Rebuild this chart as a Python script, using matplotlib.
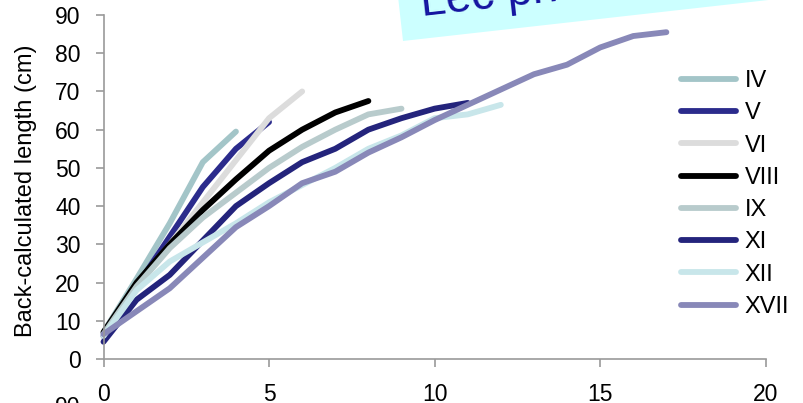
import numpy as np
import matplotlib
matplotlib.use("Agg")
import matplotlib.pyplot as plt
from matplotlib.patches import Polygon

plt.rcParams['font.family'] = ['Liberation Sans', 'DejaVu Sans']

# ---- data ----
labels = ["IV", "V", "VI", "VIII", "IX", "XI", "XII", "XVII"]
iv   = [7, 21, 35.5, 51.5, 59.5]
v    = [6, 19, 32, 45, 55, 62]
vi   = [7, 19, 30, 41, 52, 63, 70]
viii = [7, 20, 30, 39, 47, 54.5, 60, 64.5, 67.5]
ix   = [6.5, 19, 29, 37, 43.5, 50, 55.5, 60, 64, 65.5]
xi   = [4.5, 15.5, 22, 31, 40, 46, 51.5, 55, 60, 63, 65.5, 67]
xii  = [6, 18, 25.5, 30.5, 35.5, 41, 45.5, 50, 55, 58.5, 63, 64, 66.5]
xvii = [6.5, 12.5, 18.5, 26.5, 34.5, 40, 46, 49, 54, 58, 62.5, 66.5, 70.5,
        74.5, 77, 81.5, 84.5, 85.5]
series = [iv, v, vi, viii, ix, xi, xii, xvii]
colors = ["#a3c5c8", "#2b2b8c", "#dcdcdc", "#000000", "#b8cbcc", "#24247c",
          "#c8e6ea", "#8888b8"]
xticks = [0, 5, 10, 15, 20]
yticks = list(range(0, 100, 10))
ylabel = "Back-calculated length (cm)"
banner_text = "Lec ph"

W, H = 804, 403
fig = plt.figure(figsize=(W / 100, H / 100), dpi=100)
ax = fig.add_axes([103.5 / W, 1 - 359 / H, (765.7 - 103.5) / W, (359 - 15) / H])

for lab, ys, c in zip(labels, series, colors):
    ax.plot(np.arange(len(ys)), ys, color=c, lw=4.2, label=lab,
            solid_capstyle='round', solid_joinstyle='round', clip_on=False)

ax.set_xlim(0, 20)
ax.set_ylim(0, 90)
ax.set_xticks(xticks)
ax.set_yticks(yticks)
for s in ["top", "right"]:
    ax.spines[s].set_visible(False)
for s in ["left", "bottom"]:
    ax.spines[s].set_color("#9a9a9a")
    ax.spines[s].set_linewidth(1.2)
ax.tick_params(axis='both', colors="#9a9a9a", width=1.2, labelcolor="black",
               labelsize=16.5)
ax.tick_params(axis='x', length=6, pad=11.5)
ax.tick_params(axis='y', length=6, pad=10.5)
ax.set_ylabel(ylabel, fontsize=17)
ax.yaxis.set_label_coords(-0.1, 0.49)

leg = ax.legend(loc='upper left', bbox_to_anchor=(681 / W, 1 - 70 / H),
                bbox_transform=fig.transFigure, frameon=False, fontsize=17,
                handlelength=2.35, handletextpad=0.35, labelspacing=0.435,
                borderpad=0, borderaxespad=0)
for line in leg.get_lines():
    line.set_linewidth(4.2)
    line.set_solid_capstyle('round')

# partial tick label of the chart below
fig.text(80 / W, 1 - 396 / H, "90", ha='right', va='top', fontsize=16.5)

# banner
a = np.deg2rad(6.4)
bl = np.array([403.0, 41.0])
d = np.array([np.cos(a), -np.sin(a)])
p = np.array([-np.sin(a), -np.cos(a)])
corners = [bl, bl + 600 * d, bl + 600 * d + 120 * p, bl + 120 * p]
poly = Polygon([(x / W, 1 - y / H) for x, y in corners], closed=True,
               transform=fig.transFigure, facecolor="#ccffff", edgecolor='none',
               zorder=5)
fig.add_artist(poly)
fig.text(422 / W, 1 - 16 / H, banner_text, rotation=6.4, rotation_mode='anchor',
         ha='left', va='baseline', fontsize=33, color="#1414a0", zorder=6)

fig.savefig("out.png", dpi=100)
